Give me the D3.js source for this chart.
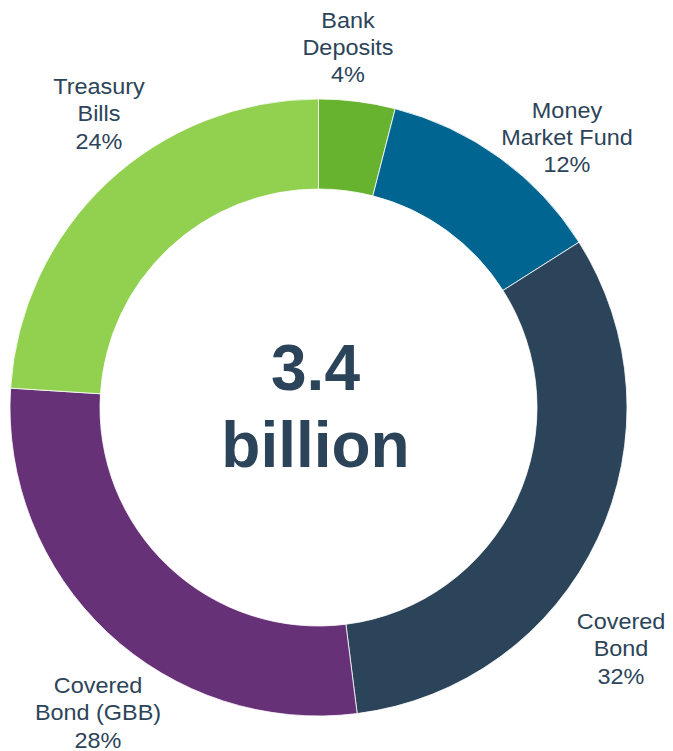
<!DOCTYPE html>
<html>
<head>
<meta charset="utf-8">
<script src="https://cdn.jsdelivr.net/npm/d3@7"></script>
<style>
  html, body { margin: 0; padding: 0; background: #ffffff; }
  svg { display: block; }
</style>
</head>
<body>
<svg id="chart" width="673" height="751"></svg>
<script>
// Portfolio allocation, clockwise from 12 o'clock
const categories = ["Bank Deposits", "Money Market Fund", "Covered Bond", "Covered Bond (GBB)", "Treasury Bills"];
const shares = [4, 12, 32, 28, 24];
const labelLines = [
  ["Bank", "Deposits"],
  ["Money", "Market Fund"],
  ["Covered", "Bond"],
  ["Covered", "Bond (GBB)"],
  ["Treasury", "Bills"]
];
const totalLines = ["3.4", "billion"];

const colors = ["#67b22f", "#006591", "#2c4459", "#663177", "#92d050"];
const textColor = "#2c4459";

const svg = d3.select("#chart");
const cx = 318.5, cy = 407.5;
const outerR = 308.5, innerR = 218.5;

const pie = d3.pie().sort(null).value(d => d)(shares);
const arc = d3.arc().innerRadius(innerR).outerRadius(outerR);

const g = svg.append("g").attr("transform", `translate(${cx},${cy})`);

g.selectAll("path.slice")
  .data(pie)
  .join("path")
  .attr("class", "slice")
  .attr("d", arc)
  .attr("fill", (d, i) => colors[i])
  .attr("stroke", "#ffffff")
  .attr("stroke-width", 0.8);

// Outside labels: anchor point per slice (centre x, first baseline y)
const labelPos = [
  [348, 27.5],
  [567, 117.5],
  [621, 629],
  [98, 693],
  [99, 94]
];
const lineGap = 27.3;
const stretchX = 1.09;

categories.forEach((c, i) => {
  const t = svg.append("text")
    .attr("transform", `translate(${labelPos[i][0]},${labelPos[i][1]}) scale(${stretchX},1)`)
    .attr("text-anchor", "middle")
    .attr("font-family", "'Liberation Sans', Arial, sans-serif")
    .attr("font-size", 21.5)
    .attr("fill", textColor);
  const lines = labelLines[i].concat([shares[i] + "%"]);
  lines.forEach((ln, k) => {
    t.append("tspan")
      .attr("x", 0)
      .attr("y", k * lineGap)
      .text(ln);
  });
});

// Centre total
const centre = svg.append("text")
  .attr("text-anchor", "middle")
  .attr("font-family", "'Liberation Sans', Arial, sans-serif")
  .attr("font-weight", "bold")
  .attr("font-size", 64)
  .attr("fill", textColor);
centre.append("tspan").attr("x", cx - 3).attr("y", 390).text(totalLines[0]);
centre.append("tspan").attr("x", cx - 3).attr("y", 467).text(totalLines[1]);
</script>
</body>
</html>
